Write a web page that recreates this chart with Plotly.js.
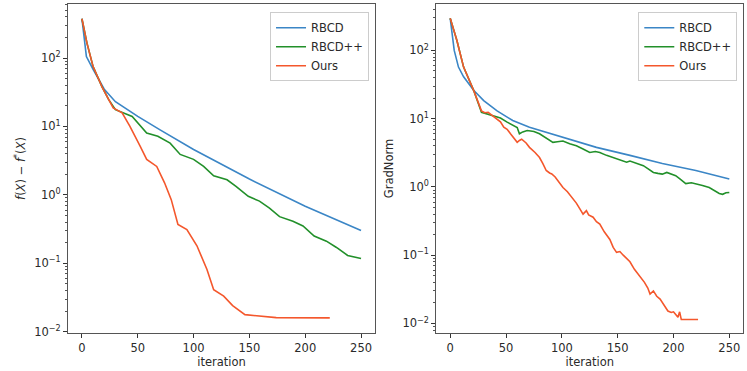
<!DOCTYPE html>
<html>
<head>
<meta charset="utf-8">
<script src="https://cdn.plot.ly/plotly-3.0.1.min.js"></script>
<style>
  html, body { margin: 0; padding: 0; background: #fff; }
  #plot { width: 747px; height: 371px; }
</style>
</head>
<body>
<div id="plot"></div>
<script>
// left panel: f(X) - f*(X)
const gapIterRBCD = [0, 4, 10, 20, 30, 50, 70, 100, 150, 200, 250];
const gapRBCD = [375, 105, 68, 35, 23, 14, 8.9, 4.6, 1.7, 0.68, 0.30];

const gapIterPP = [0, 4.5, 10, 18, 24, 30, 45, 52, 58, 68, 79, 88, 100, 109, 118, 130, 138, 149, 159, 168, 177, 189, 198, 208, 219, 228, 238, 250];
const gapPP = [375, 165, 75, 38, 24.6, 17.6, 14, 10.5, 8.0, 7.2, 5.7, 3.9, 3.3, 2.6, 1.9, 1.66, 1.33, 0.95, 0.81, 0.64, 0.48, 0.41, 0.35, 0.25, 0.21, 0.17, 0.13, 0.117];

const gapIterOurs = [0, 4.5, 10, 18, 24, 28, 36, 43, 52, 58, 67, 74, 80, 86, 94, 103, 112, 118, 127, 135, 146, 159, 174, 222];
const gapOurs = [375, 165, 75, 38, 24.6, 18.6, 15.8, 10, 5.2, 3.3, 2.6, 1.5, 0.85, 0.37, 0.31, 0.18, 0.081, 0.041, 0.033, 0.024, 0.0177, 0.0169, 0.016, 0.0159];

// right panel: GradNorm
const gnIterRBCD = [0, 3.6, 7.4, 12, 21, 30, 42, 56, 71, 101, 131, 161, 190, 220, 250];
const gnRBCD = [295, 100, 57, 41, 26, 18.4, 13, 9.4, 7.5, 5.3, 3.8, 2.9, 2.2, 1.74, 1.31];

const gnIterPP = [0, 6, 12, 21, 28, 34, 39, 45, 51, 56, 60, 62, 65, 69, 75, 80, 86, 92, 96, 101, 107, 113, 119, 125, 130, 134, 140, 146, 152, 158, 161, 164, 168, 173, 177, 182, 186, 190, 194, 198, 202, 206, 211, 216, 220, 226, 232, 236, 241, 244, 247, 250];
const gnPP = [295, 140, 57, 26, 12.4, 11.6, 11.1, 10.2, 8.9, 8.0, 7.4, 6.0, 6.4, 6.7, 6.5, 6.0, 5.2, 4.5, 4.6, 4.7, 4.3, 4.0, 3.6, 3.2, 3.3, 3.2, 2.9, 2.7, 2.5, 2.3, 2.4, 2.3, 2.2, 2.05, 1.85, 1.63, 1.58, 1.54, 1.63, 1.55, 1.46, 1.3, 1.12, 1.15, 1.12, 1.05, 0.98, 0.9, 0.80, 0.78, 0.82, 0.83];

const gnIterOurs = [0, 6, 12, 21, 28, 31, 34, 38, 42, 45, 48, 51, 54, 57, 60, 62, 64, 68, 71, 76, 80, 83, 86, 89, 91, 94, 98, 101, 105, 109, 113, 116, 119, 122, 124, 128, 131, 134, 138, 143, 146, 149, 152, 155, 158, 161, 165, 170, 174, 177, 179, 182, 185, 188, 191, 195, 198, 200, 202, 204, 205.5, 207, 209, 222];
const gnOurs = [295, 140, 57, 26, 13, 12.2, 12.4, 11, 10, 9.0, 7.5, 7.0, 6.0, 5.2, 4.5, 4.8, 5.0, 4.4, 3.8, 3.2, 2.7, 2.2, 1.74, 1.6, 1.55, 1.4, 1.15, 0.98, 0.85, 0.7, 0.58, 0.48, 0.40, 0.45, 0.39, 0.36, 0.31, 0.285, 0.22, 0.17, 0.13, 0.11, 0.113, 0.1, 0.088, 0.08, 0.062, 0.049, 0.04, 0.033, 0.027, 0.030, 0.025, 0.0227, 0.019, 0.0152, 0.0145, 0.0148, 0.0135, 0.0123, 0.0148, 0.0114, 0.0114, 0.0114];

const seriesNames = ['RBCD', 'RBCD++', 'Ours'];
const colors = ['#3b86c6', '#22902a', '#f4572c'];

const xTicks = [0, 50, 100, 150, 200, 250];
const yTickVals = [0.01, 0.1, 1, 10, 100];
const yTickText = ['10<sup>−2</sup>', '10<sup>−1</sup>', '10<sup>0</sup>', '10<sup>1</sup>', '10<sup>2</sup>'];

// minor log ticks 2..9 in each decade
const minorVals = [];
for (let e = -3; e <= 2; e++) {
    for (let m = 2; m <= 9; m++) minorVals.push(m * Math.pow(10, e));
}

const font = { family: 'DejaVu Sans', size: 11.5, color: '#2a2a2a' };

function line(x, y, i, xa, ya, leg) {
    return {
        x: x, y: y, xaxis: xa, yaxis: ya,
        mode: 'lines', name: seriesNames[i],
        line: { color: colors[i], width: 1.6 },
        legend: leg
    };
}

const traces = [
    line(gapIterRBCD, gapRBCD, 0, 'x', 'y', 'legend'),
    line(gapIterPP, gapPP, 1, 'x', 'y', 'legend'),
    line(gapIterOurs, gapOurs, 2, 'x', 'y', 'legend'),
    line(gnIterRBCD, gnRBCD, 0, 'x2', 'y2', 'legend2'),
    line(gnIterPP, gnPP, 1, 'x2', 'y2', 'legend2'),
    line(gnIterOurs, gnOurs, 2, 'x2', 'y2', 'legend2')
];

const xCommon = {
    range: [-12.5, 262.5], tickvals: xTicks,
    ticks: 'outside', ticklen: 4, tickcolor: '#333',
    showline: true, mirror: true, linecolor: '#555', linewidth: 1,
    showgrid: false, zeroline: false, tickfont: font,
    title: { text: 'iteration', font: font, standoff: 3 }
};
const yCommon = {
    type: 'log', tickvals: yTickVals, ticktext: yTickText,
    ticks: 'outside', ticklen: 4, tickcolor: '#333',
    minor: { tickvals: minorVals, ticks: 'outside', ticklen: 2, tickcolor: '#555', showgrid: false },
    showline: true, mirror: true, linecolor: '#555', linewidth: 1,
    showgrid: false, zeroline: false, tickfont: font
};

const layout = {
    width: 747, height: 371,
    margin: { l: 0, r: 0, t: 4, b: 38 },
    paper_bgcolor: '#fff', plot_bgcolor: '#fff',
    font: font,
    xaxis: Object.assign({}, xCommon, { domain: [0.091, 0.502], anchor: 'y' }),
    yaxis: Object.assign({}, yCommon, {
        range: [-2.02, 2.79], anchor: 'x',
        title: { text: '<i>f</i>(<i>X</i>) − <i>f</i><sup>*</sup>(<i>X</i>)', font: font, standoff: 6 }
    }),
    xaxis2: Object.assign({}, xCommon, { domain: [0.584, 0.995], anchor: 'y2' }),
    yaxis2: Object.assign({}, yCommon, {
        range: [-2.14, 2.68], anchor: 'x2',
        title: { text: 'GradNorm', font: font, standoff: 6 }
    }),
    legend: {
        x: 0.494, y: 0.975, xanchor: 'right', yanchor: 'top',
        bgcolor: '#fff', bordercolor: '#ccc', borderwidth: 1,
        font: font, itemwidth: 30, tracegroupgap: 0
    },
    legend2: {
        x: 0.987, y: 0.975, xanchor: 'right', yanchor: 'top',
        bgcolor: '#fff', bordercolor: '#ccc', borderwidth: 1,
        font: font, itemwidth: 30, tracegroupgap: 0
    }
};

Plotly.newPlot('plot', traces, layout, { displayModeBar: false, staticPlot: true });
</script>
</body>
</html>
